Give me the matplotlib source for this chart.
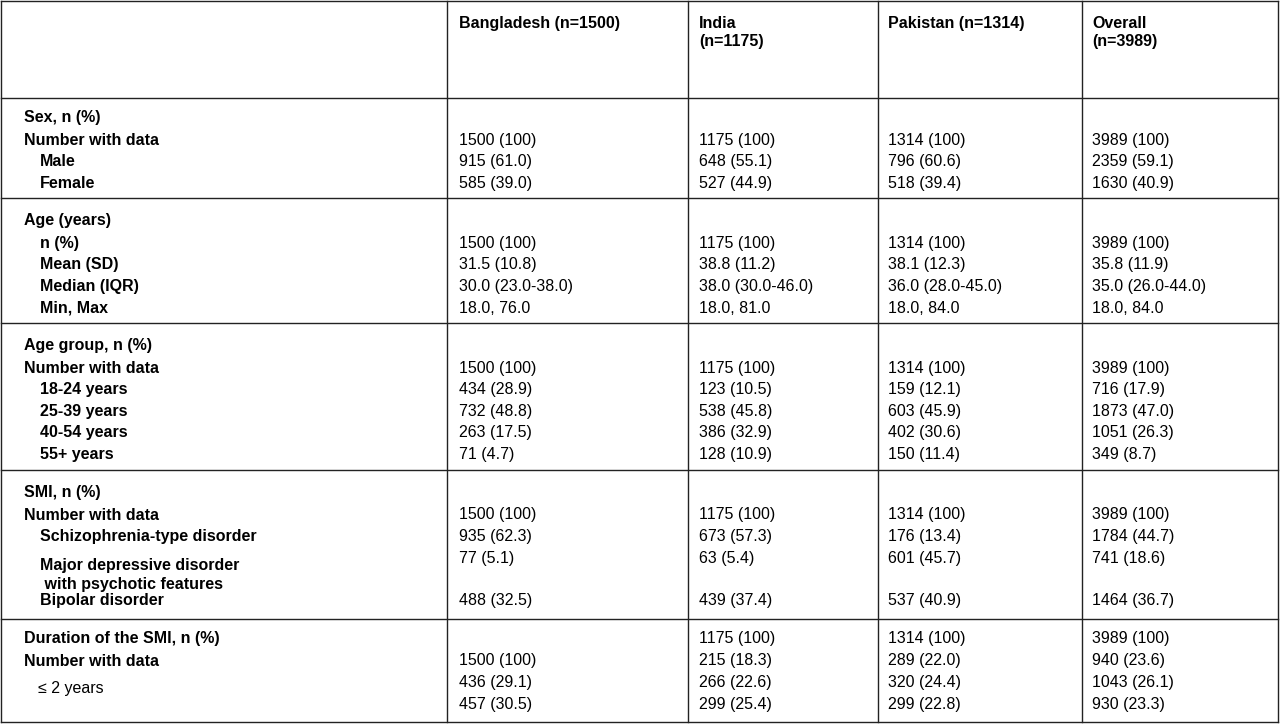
import matplotlib.pyplot as plt

plt.rcParams['font.family'] = ['Liberation Sans', 'DejaVu Sans']

headers = ["Bangladesh (n=1500)", "India\n(n=1175)", "Pakistan (n=1314)", "Overall\n(n=3989)"]

# row labels (text, indented)
labels = [
    ("Sex, n (%)", False), ("Number with data", False), ("Male", True), ("Female", True),
    ("Age (years)", False), ("n (%)", True), ("Mean (SD)", True), ("Median (IQR)", True), ("Min, Max", True),
    ("Age group, n (%)", False), ("Number with data", False), ("18-24 years", True), ("25-39 years", True),
    ("40-54 years", True), ("55+ years", True),
    ("SMI, n (%)", False), ("Number with data", False), ("Schizophrenia-type disorder", True),
    ("Major depressive disorder\n with psychotic features", True), ("Bipolar disorder", True),
    ("Duration of the SMI, n (%)", False), ("Number with data", False),
]
label_y = [117, 140, 161, 183, 220, 243, 264, 286, 308, 345, 368, 389, 411, 432, 454,
           492, 515, 536, 558, 601, 639, 661]

bangladesh = ["1500 (100)", "915 (61.0)", "585 (39.0)",
              "1500 (100)", "31.5 (10.8)", "30.0 (23.0-38.0)", "18.0, 76.0",
              "1500 (100)", "434 (28.9)", "732 (48.8)", "263 (17.5)", "71 (4.7)",
              "1500 (100)", "935 (62.3)", "77 (5.1)", "488 (32.5)",
              "1500 (100)", "436 (29.1)", "457 (30.5)"]
india = ["1175 (100)", "648 (55.1)", "527 (44.9)",
         "1175 (100)", "38.8 (11.2)", "38.0 (30.0-46.0)", "18.0, 81.0",
         "1175 (100)", "123 (10.5)", "538 (45.8)", "386 (32.9)", "128 (10.9)",
         "1175 (100)", "673 (57.3)", "63 (5.4)", "439 (37.4)",
         "1175 (100)", "215 (18.3)", "266 (22.6)", "299 (25.4)"]
pakistan = ["1314 (100)", "796 (60.6)", "518 (39.4)",
            "1314 (100)", "38.1 (12.3)", "36.0 (28.0-45.0)", "18.0, 84.0",
            "1314 (100)", "159 (12.1)", "603 (45.9)", "402 (30.6)", "150 (11.4)",
            "1314 (100)", "176 (13.4)", "601 (45.7)", "537 (40.9)",
            "1314 (100)", "289 (22.0)", "320 (24.4)", "299 (22.8)"]
overall = ["3989 (100)", "2359 (59.1)", "1630 (40.9)",
           "3989 (100)", "35.8 (11.9)", "35.0 (26.0-44.0)", "18.0, 84.0",
           "3989 (100)", "716 (17.9)", "1873 (47.0)", "1051 (26.3)", "349 (8.7)",
           "3989 (100)", "1784 (44.7)", "741 (18.6)", "1464 (36.7)",
           "3989 (100)", "940 (23.6)", "1043 (26.1)", "930 (23.3)"]

value_y_main = [140, 161, 183, 243, 264, 286, 308, 368, 389, 411, 432, 454, 515, 536, 558, 601]
bd_y = value_y_main + [661, 683, 705]
other_y = value_y_main + [639, 661, 683, 705]

col_lines = [1, 447, 688, 878, 1082, 1278]
row_lines = [1, 98, 198, 323, 470, 619, 722]
col_x = [459, 699, 888, 1092]

fig = plt.figure(figsize=(12.8, 7.25), dpi=100)
ax = fig.add_axes([0, 0, 1, 1])
ax.set_xlim(0, 1280)
ax.set_ylim(725, 0)
ax.axis('off')

for x in col_lines:
    ax.plot([x, x], [row_lines[0], row_lines[-1]], color='#222222', lw=1)
for y in row_lines:
    ax.plot([col_lines[0], col_lines[-1]], [y, y], color='#222222', lw=1)

fs = 11.5
for x, h in zip(col_x, headers):
    ax.text(x, 16, h, fontsize=fs, fontweight='bold', va='top', ha='left', linespacing=1.25)

for (t, ind), y in zip(labels, label_y):
    ax.text(24 + (16 if ind else 0), y, t, fontsize=fs, fontweight='bold',
            va='center' if '\n' not in t else 'top', ha='left', linespacing=1.3)
    if '\n' in t:
        pass
ax.text(38, 689, "\u2264 2 years", fontsize=fs, va='center', ha='left')

for x, vals, ys in [(col_x[0], bangladesh, bd_y), (col_x[1], india, other_y),
                    (col_x[2], pakistan, other_y), (col_x[3], overall, other_y)]:
    for v, y in zip(vals, ys):
        ax.text(x, y, v, fontsize=fs, va='center', ha='left')

fig.savefig('out.png', dpi=100)
